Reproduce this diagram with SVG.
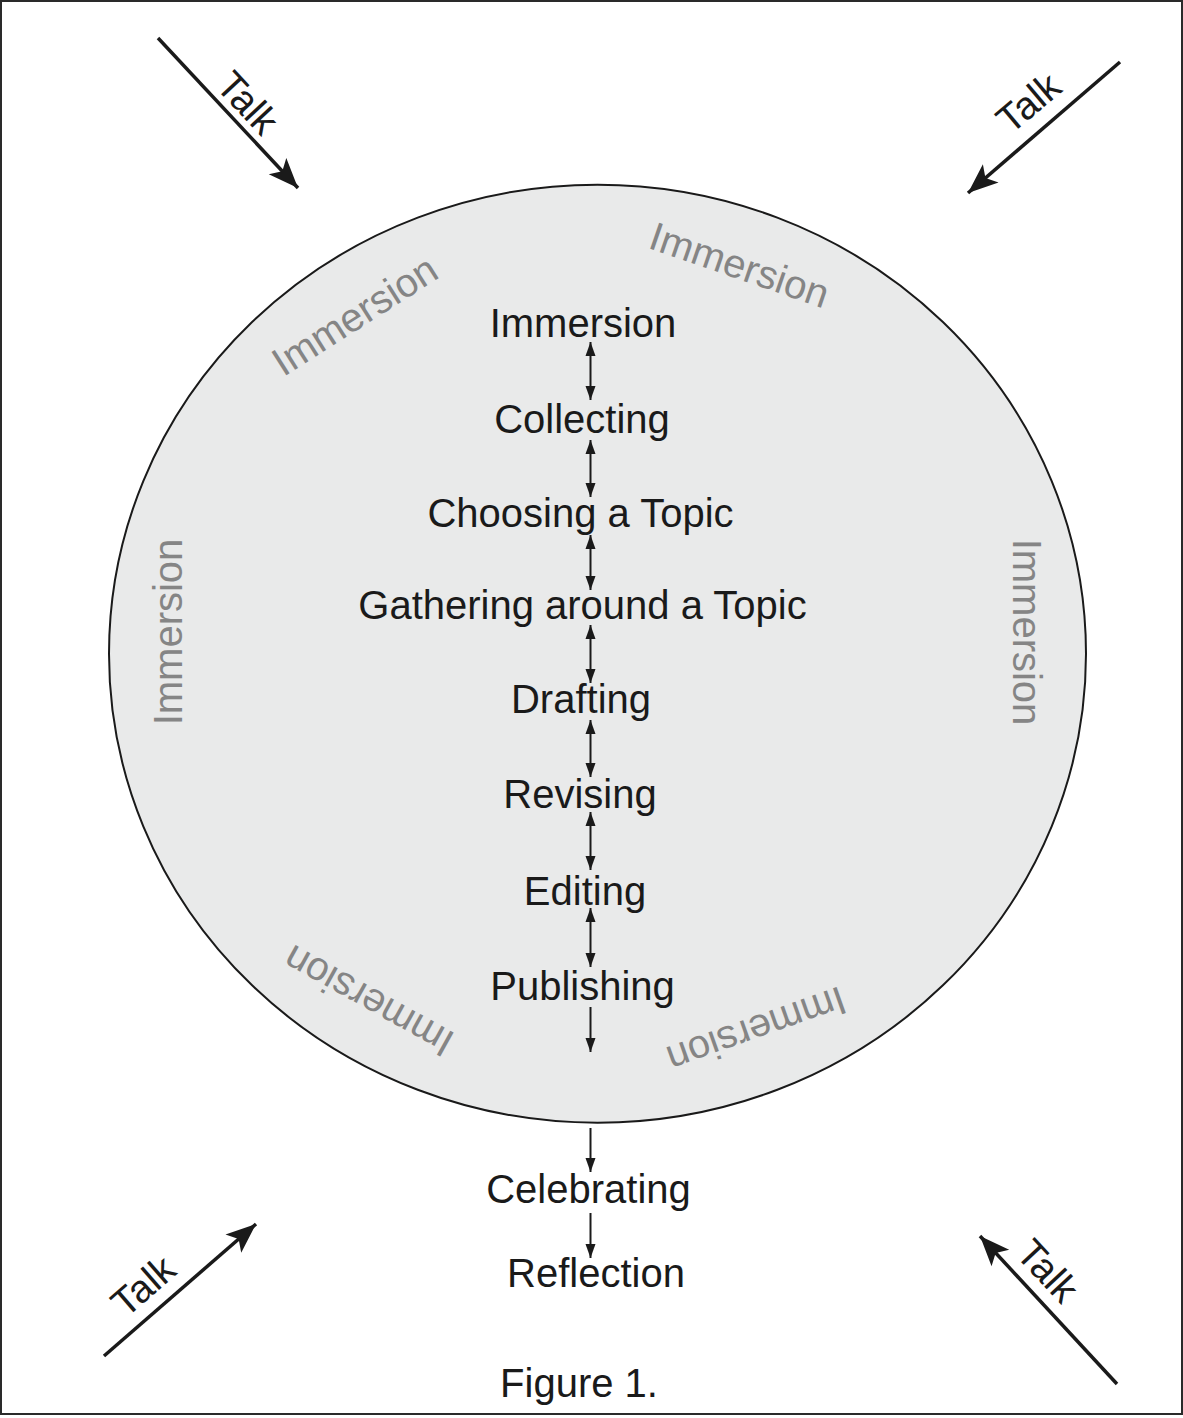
<svg xmlns="http://www.w3.org/2000/svg" width="1183" height="1418" viewBox="0 0 1183 1418">
  <style>
    .step { font-family: "Liberation Sans", Arial, sans-serif; font-size: 40px; fill: #1a1a1a; text-anchor: middle; }
    .imm { font-family: "Liberation Sans", Arial, sans-serif; font-size: 40px; fill: #858585; text-anchor: middle; }
    .talk { font-family: "Liberation Sans", Arial, sans-serif; font-size: 39px; fill: #1a1a1a; text-anchor: middle; }
    .flow { stroke: #1a1a1a; stroke-width: 2; fill: none; }
    .talkline { stroke: #1a1a1a; stroke-width: 3.5; fill: none; }
  </style>
  <defs>
    <marker id="sm-end" markerUnits="userSpaceOnUse" markerWidth="16" markerHeight="12" refX="14" refY="5" orient="auto">
      <path d="M0,0 L14,5 L0,10 Z" fill="#1a1a1a"/>
    </marker>
    <marker id="sm-start" markerUnits="userSpaceOnUse" markerWidth="16" markerHeight="12" refX="0" refY="5" orient="auto">
      <path d="M14,0 L0,5 L14,10 Z" fill="#1a1a1a"/>
    </marker>
    <marker id="big" markerUnits="userSpaceOnUse" markerWidth="34" markerHeight="28" refX="32" refY="13" orient="auto">
      <path d="M32,13 L2,1 L9,13 L2,25 Z" fill="#1a1a1a"/>
    </marker>
  </defs>

  <rect x="1" y="1" width="1181" height="1413" fill="#ffffff" stroke="#2a2a2a" stroke-width="2"/>

  <g id="cycle">
    <ellipse cx="597.5" cy="653.7" rx="488.5" ry="469" fill="#e9eaea" stroke="#1a1a1a" stroke-width="2"/>
    <text class="imm" transform="translate(362,327) rotate(-32.5)">Immersion</text>
    <text class="imm" transform="translate(735,278) rotate(19)">Immersion</text>
    <text class="imm" transform="translate(182,632) rotate(-90)">Immersion</text>
    <text class="imm" transform="translate(1013,632) rotate(90)">Immersion</text>
    <text class="imm" transform="translate(375,989) rotate(-151)">Immersion</text>
    <text class="imm" transform="translate(752,1017) rotate(160.5)">Immersion</text>
  </g>

  <g id="steps">
    <g id="immersion"><text class="step" x="583" y="337">Immersion</text></g>
    <g id="collecting"><text class="step" x="582" y="433">Collecting</text></g>
    <g id="choosing"><text class="step" x="580.5" y="527">Choosing a Topic</text></g>
    <g id="gathering"><text class="step" x="582.5" y="619">Gathering around a Topic</text></g>
    <g id="drafting"><text class="step" x="581" y="713">Drafting</text></g>
    <g id="revising"><text class="step" x="580" y="808">Revising</text></g>
    <g id="editing"><text class="step" x="585" y="905">Editing</text></g>
    <g id="publishing"><text class="step" x="582.5" y="1000">Publishing</text></g>
    <g id="celebrating"><text class="step" x="588.5" y="1203">Celebrating</text></g>
    <g id="reflection"><text class="step" x="596" y="1287">Reflection</text></g>
  </g>

  <g id="talk-labels">
    <text class="talk" transform="translate(238,112) rotate(47)">Talk</text>
    <text class="talk" transform="translate(1037,113) rotate(-40)">Talk</text>
    <text class="talk" transform="translate(152,1296) rotate(-41)">Talk</text>
    <text class="talk" transform="translate(1038,1280) rotate(47)">Talk</text>
  </g>

  <g id="connectors">
    <line class="flow" x1="590.5" y1="342" x2="590.5" y2="400" marker-start="url(#sm-start)" marker-end="url(#sm-end)"/>
    <line class="flow" x1="590.5" y1="440" x2="590.5" y2="497" marker-start="url(#sm-start)" marker-end="url(#sm-end)"/>
    <line class="flow" x1="590.5" y1="535" x2="590.5" y2="590" marker-start="url(#sm-start)" marker-end="url(#sm-end)"/>
    <line class="flow" x1="590.5" y1="625" x2="590.5" y2="683" marker-start="url(#sm-start)" marker-end="url(#sm-end)"/>
    <line class="flow" x1="590.5" y1="720" x2="590.5" y2="777" marker-start="url(#sm-start)" marker-end="url(#sm-end)"/>
    <line class="flow" x1="590.5" y1="812" x2="590.5" y2="870" marker-start="url(#sm-start)" marker-end="url(#sm-end)"/>
    <line class="flow" x1="590.5" y1="908" x2="590.5" y2="967" marker-start="url(#sm-start)" marker-end="url(#sm-end)"/>
    <line class="flow" x1="590.5" y1="1007" x2="590.5" y2="1052" marker-end="url(#sm-end)"/>
    <line class="flow" x1="590.5" y1="1128" x2="590.5" y2="1172" marker-end="url(#sm-end)"/>
    <line class="flow" x1="590.5" y1="1213" x2="590.5" y2="1258" marker-end="url(#sm-end)"/>

    <line class="talkline" x1="158" y1="38" x2="298" y2="188" marker-end="url(#big)"/>
    <line class="talkline" x1="1120" y1="62" x2="968" y2="193" marker-end="url(#big)"/>
    <line class="talkline" x1="104" y1="1356" x2="256" y2="1224" marker-end="url(#big)"/>
    <line class="talkline" x1="1117" y1="1384" x2="980" y2="1236" marker-end="url(#big)"/>
  </g>

  <text class="step" x="579" y="1397">Figure 1.</text>
</svg>
